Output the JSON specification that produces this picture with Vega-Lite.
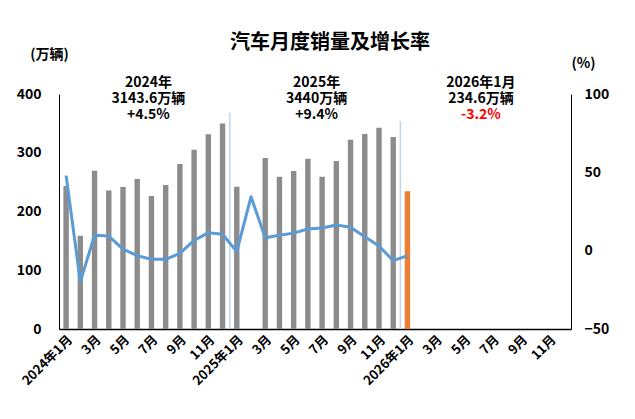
{
  "$schema": "https://vega.github.io/schema/vega-lite/v6.json",
  "autosize": "none",
  "width": 512,
  "height": 235,
  "padding": {"left": 59, "top": 94, "right": 64, "bottom": 90},
  "background": "white",
  "config": {"view": {"stroke": null}, "font": "Noto Sans CJK SC"},
  "title": {
    "text": "汽车月度销量及增长率",
    "font": "Noto Sans CJK SC",
    "fontSize": 20,
    "fontWeight": "bold",
    "color": "#000000",
    "anchor": "middle",
    "frame": "group",
    "dx": 15,
    "offset": -6
  },
  "datasets": {
    "monthly": [
      {"month": "2024-01", "sales": 243.4, "growth": 47.9, "kind": "past"},
      {"month": "2024-02", "sales": 158.8, "growth": -19.9, "kind": "past"},
      {"month": "2024-03", "sales": 269.4, "growth": 9.9, "kind": "past"},
      {"month": "2024-04", "sales": 235.9, "growth": 9.3, "kind": "past"},
      {"month": "2024-05", "sales": 241.7, "growth": 1.0, "kind": "past"},
      {"month": "2024-06", "sales": 255.3, "growth": -3.2, "kind": "past"},
      {"month": "2024-07", "sales": 226.2, "growth": -5.5, "kind": "past"},
      {"month": "2024-08", "sales": 245.3, "growth": -5.5, "kind": "past"},
      {"month": "2024-09", "sales": 280.9, "growth": -1.7, "kind": "past"},
      {"month": "2024-10", "sales": 305.0, "growth": 6.5, "kind": "past"},
      {"month": "2024-11", "sales": 331.7, "growth": 11.5, "kind": "past"},
      {"month": "2024-12", "sales": 349.6, "growth": 10.5, "kind": "past"},
      {"month": "2025-01", "sales": 242.3, "growth": -0.6, "kind": "past"},
      {"month": "2025-02", "sales": null, "growth": 34.4, "kind": "past"},
      {"month": "2025-03", "sales": 291.2, "growth": 8.2, "kind": "past"},
      {"month": "2025-04", "sales": 259.0, "growth": 9.8, "kind": "past"},
      {"month": "2025-05", "sales": 269.0, "growth": 11.2, "kind": "past"},
      {"month": "2025-06", "sales": 290.0, "growth": 13.8, "kind": "past"},
      {"month": "2025-07", "sales": 259.0, "growth": 14.5, "kind": "past"},
      {"month": "2025-08", "sales": 286.0, "growth": 16.4, "kind": "past"},
      {"month": "2025-09", "sales": 322.0, "growth": 14.9, "kind": "past"},
      {"month": "2025-10", "sales": 332.0, "growth": 8.9, "kind": "past"},
      {"month": "2025-11", "sales": 342.5, "growth": 3.0, "kind": "past"},
      {"month": "2025-12", "sales": 327.0, "growth": -6.4, "kind": "past"},
      {"month": "2026-01", "sales": 234.6, "growth": -3.2, "kind": "current"}
    ],
    "separators": [
      {"month": "2025-01", "top": 368, "bottom": 0},
      {"month": "2026-01", "top": 354, "bottom": 0}
    ],
    "notes": [
      {"group": "y2024", "month": "2024-07", "level": 419, "label": "2024年", "tone": "normal"},
      {"group": "y2024", "month": "2024-07", "level": 392, "label": "3143.6万辆", "tone": "normal"},
      {"group": "y2024", "month": "2024-07", "level": 365, "label": "+4.5%", "tone": "normal"},
      {"group": "y2025", "month": "2025-07", "level": 419, "label": "2025年", "tone": "normal"},
      {"group": "y2025", "month": "2025-07", "level": 392, "label": "3440万辆", "tone": "normal"},
      {"group": "y2025", "month": "2025-07", "level": 365, "label": "+9.4%", "tone": "normal"},
      {"group": "m2026", "month": "2026-06", "level": 419, "label": "2026年1月", "tone": "normal"},
      {"group": "m2026", "month": "2026-06", "level": 392, "label": "234.6万辆", "tone": "normal"},
      {"group": "m2026", "month": "2026-06", "level": 365, "label": "-3.2%", "tone": "neg"}
    ]
  },
  "encoding": {
    "x": {
      "field": "month",
      "type": "ordinal",
      "scale": {
        "domain": ["2024-01","2024-02","2024-03","2024-04","2024-05","2024-06","2024-07","2024-08","2024-09","2024-10","2024-11","2024-12",
                   "2025-01","2025-02","2025-03","2025-04","2025-05","2025-06","2025-07","2025-08","2025-09","2025-10","2025-11","2025-12",
                   "2026-01","2026-02","2026-03","2026-04","2026-05","2026-06","2026-07","2026-08","2026-09","2026-10","2026-11","2026-12"],
        "paddingInner": 0.62,
        "paddingOuter": 0.31
      },
      "axis": {
        "title": null,
        "values": ["2024-01","2024-03","2024-05","2024-07","2024-09","2024-11","2025-01","2025-03","2025-05","2025-07","2025-09","2025-11","2026-01","2026-03","2026-05","2026-07","2026-09","2026-11"],
        "labelExpr": "substring(datum.value,5,7) == '01' ? substring(datum.value,0,4) + '年1月' : toNumber(substring(datum.value,5,7)) + '月'",
        "labelAngle": -45,
        "labelFont": "Noto Sans CJK SC",
        "labelFontSize": 13,
        "labelFontWeight": "bold",
        "labelColor": "#000000",
        "labelPadding": 4,
        "ticks": false,
        "grid": false,
        "domainColor": "#000000",
        "domainWidth": 1.3
      }
    }
  },
  "layer": [
    {
      "encoding": {
        "y": {
          "type": "quantitative",
          "scale": {"domain": [0, 400], "nice": false},
          "axis": {
            "title": "(万辆)",
            "titleAngle": 0,
            "titleX": -10,
            "titleY": -40,
            "titleAlign": "center",
            "titleBaseline": "middle",
            "titleFont": "Noto Sans CJK SC",
            "titleFontSize": 14,
            "titleFontWeight": "bold",
            "titleColor": "#000000",
            "values": [0, 100, 200, 300, 400],
            "labelFont": "Noto Sans CJK SC",
            "labelFontSize": 14,
            "labelFontWeight": "bold",
            "labelColor": "#000000",
            "labelPadding": 18,
            "ticks": false,
            "grid": false,
            "domainColor": "#000000",
            "domainWidth": 1
          }
        }
      },
      "layer": [
        {
          "data": {"name": "monthly"},
          "mark": {"type": "bar"},
          "encoding": {
            "y": {"field": "sales", "type": "quantitative"},
            "color": {
              "field": "kind",
              "type": "nominal",
              "scale": {"domain": ["past", "current"], "range": ["#8C8C8C", "#ED7D31"]},
              "legend": null
            }
          }
        },
        {
          "data": {"name": "separators"},
          "mark": {"type": "rule", "color": "#BDD7EE", "strokeWidth": 1.5},
          "encoding": {
            "x": {"field": "month", "type": "ordinal", "bandPosition": -0.8},
            "y": {"field": "top", "type": "quantitative"},
            "y2": {"field": "bottom"}
          }
        },
        {
          "data": {"name": "notes"},
          "transform": [{"filter": "datum.group == 'y2024'"}],
          "mark": {"type": "text", "font": "Noto Sans CJK SC", "fontSize": 14, "fontWeight": "bold", "baseline": "middle", "align": "center", "dx": -3, "color": "#000000"},
          "encoding": {
            "y": {"field": "level", "type": "quantitative"},
            "text": {"field": "label"}
          }
        },
        {
          "data": {"name": "notes"},
          "transform": [{"filter": "datum.group == 'y2025'"}],
          "mark": {"type": "text", "font": "Noto Sans CJK SC", "fontSize": 14, "fontWeight": "bold", "baseline": "middle", "align": "center", "dx": -5.5, "color": "#000000"},
          "encoding": {
            "y": {"field": "level", "type": "quantitative"},
            "text": {"field": "label"}
          }
        },
        {
          "data": {"name": "notes"},
          "transform": [{"filter": "datum.group == 'm2026'"}],
          "mark": {"type": "text", "font": "Noto Sans CJK SC", "fontSize": 14, "fontWeight": "bold", "baseline": "middle", "align": "center", "dx": 2.4},
          "encoding": {
            "y": {"field": "level", "type": "quantitative"},
            "text": {"field": "label"},
            "color": {"field": "tone", "type": "nominal", "scale": {"domain": ["normal", "neg"], "range": ["#000000", "#FF0000"]}, "legend": null}
          }
        }
      ],
      "resolve": {"scale": {"color": "independent"}}
    },
    {
      "data": {"name": "monthly"},
      "mark": {"type": "line", "color": "#5B9BD5", "strokeWidth": 3, "strokeJoin": "round"},
      "encoding": {
        "y": {
          "field": "growth",
          "type": "quantitative",
          "scale": {"domain": [-50, 100], "nice": false},
          "axis": {
            "orient": "right",
            "title": "(%)",
            "titleAngle": 0,
            "titleX": 12,
            "titleY": -31,
            "titleAlign": "center",
            "titleBaseline": "middle",
            "titleFont": "Noto Sans CJK SC",
            "titleFontSize": 14,
            "titleFontWeight": "bold",
            "titleColor": "#000000",
            "values": [-50, 0, 50, 100],
            "labelFont": "Noto Sans CJK SC",
            "labelFontSize": 14,
            "labelFontWeight": "bold",
            "labelColor": "#000000",
            "labelPadding": 13,
            "ticks": false,
            "grid": false,
            "domainColor": "#000000",
            "domainWidth": 1
          }
        }
      }
    }
  ],
  "resolve": {"scale": {"y": "independent", "color": "independent"}}
}
